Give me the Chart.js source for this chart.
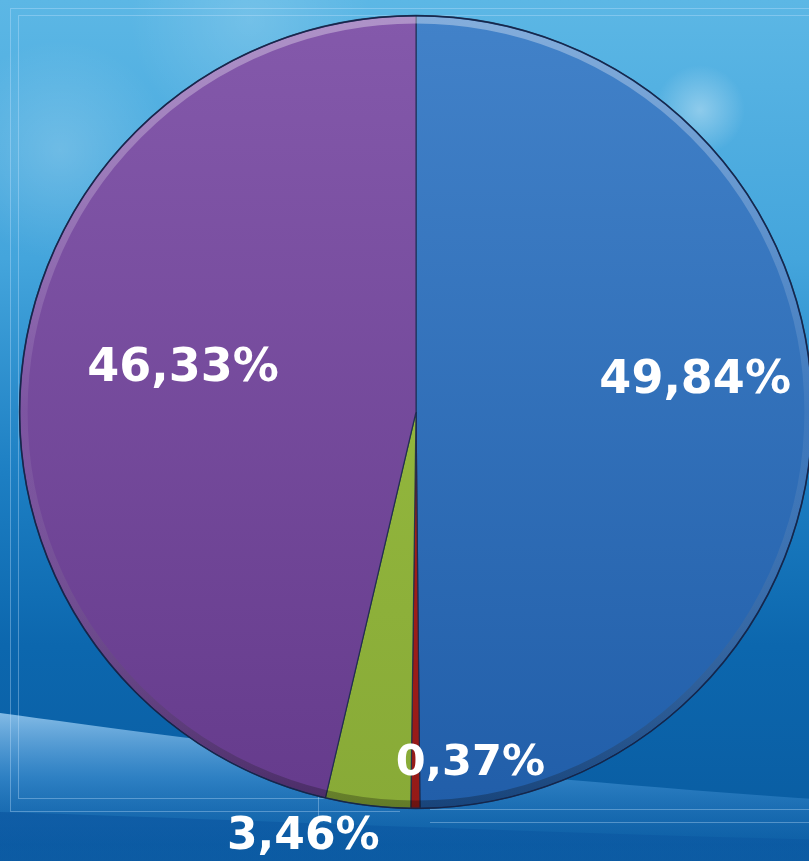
<!DOCTYPE html>
<html>
<head>
<meta charset="utf-8">
<script src="https://cdn.jsdelivr.net/npm/chart.js@4.4.0/dist/chart.umd.min.js"></script>
<style>
  html, body { margin: 0; padding: 0; overflow: hidden; background: #2a8bd0; }
  #pie { display: block; }
</style>
</head>
<body>
<canvas id="pie" width="830" height="861"></canvas>
<script>
// slices go clockwise from 12 o'clock
var sliceNames  = ['A', 'B', 'C', 'D'];
var sliceValues = [49.84, 0.37, 3.46, 46.33];
var sliceLabels = ['49,84%', '0,37%', '3,46%', '46,33%'];

// colours: top / bottom of each slice
var colTop    = ['#4282c9', '#b2261f', '#9cc243', '#8459ab'];
var colBottom = ['#215ea9', '#951a17', '#88aa37', '#653b8c'];

// where each label sits: fraction of radius, turn from mid-angle (deg), font size
var labelRadius = [0.71, 0.887, 1.10, 0.60];
var labelTurn   = [-7, -9, 8, 5];
var labelSize   = [46, 43, 44, 46];

var skyPlugin = {
    id: 'sky',
    beforeDraw: function(chart){
        var c = chart.ctx, w = chart.width, h = chart.height;
        c.save();
        var g = c.createLinearGradient(0, 0, 0, h);
        g.addColorStop(0, '#5cb7e5');
        g.addColorStop(0.3, '#44a5dc');
        g.addColorStop(0.55, '#1d7fc3');
        g.addColorStop(0.75, '#0c67ae');
        g.addColorStop(1, '#095ba0');
        c.fillStyle = g;
        c.fillRect(0, 0, w, h);

        // soft clouds
        function cloud(x, y, r, a){
            var rg = c.createRadialGradient(x, y, 0, x, y, r);
            rg.addColorStop(0, 'rgba(255,255,255,' + a + ')');
            rg.addColorStop(1, 'rgba(255,255,255,0)');
            c.fillStyle = rg;
            c.beginPath(); c.arc(x, y, r, 0, Math.PI * 2); c.fill();
        }
        cloud(700, 110, 45, 0.35);
        cloud(60, 150, 110, 0.18);
        cloud(250, 20, 120, 0.15);

        // light wave band across the bottom
        var wg = c.createLinearGradient(0, 710, 0, 845);
        wg.addColorStop(0, 'rgba(150,200,238,0.9)');
        wg.addColorStop(0.5, 'rgba(70,150,215,0.6)');
        wg.addColorStop(1, 'rgba(30,110,185,0.2)');
        c.fillStyle = wg;
        c.beginPath();
        c.moveTo(0, 713);
        c.bezierCurveTo(200, 740, 450, 775, w, 800);
        c.lineTo(w, h);
        c.lineTo(0, h);
        c.closePath();
        c.fill();

        // darker strip beneath
        var dg = c.createLinearGradient(0, 805, 0, h);
        dg.addColorStop(0, 'rgba(10,85,160,0.7)');
        dg.addColorStop(1, 'rgba(10,85,160,0.35)');
        c.fillStyle = dg;
        c.beginPath();
        c.moveTo(0, 812);
        c.bezierCurveTo(200, 818, 450, 830, w, 840);
        c.lineTo(w, h);
        c.lineTo(0, h);
        c.closePath();
        c.fill();

        // faint frame lines
        c.strokeStyle = 'rgba(200,230,255,0.35)';
        c.lineWidth = 1;
        c.beginPath();
        c.moveTo(10.5, 811); c.lineTo(10.5, 8.5); c.lineTo(w, 8.5);
        c.moveTo(18.5, 798); c.lineTo(18.5, 15.5); c.lineTo(w, 15.5);
        c.moveTo(10, 811.5); c.lineTo(400, 811.5);
        c.moveTo(18, 798.5); c.lineTo(400, 798.5);
        c.moveTo(430, 809.5); c.lineTo(w, 809.5);
        c.moveTo(430, 822.5); c.lineTo(w, 822.5);
        c.moveTo(318.5, 405); c.lineTo(318.5, 822);
        c.moveTo(318, 405.5); c.lineTo(425, 405.5);
        c.stroke();
        c.restore();
    }
};

var bevelPlugin = {
    id: 'bevel',
    afterDatasetsDraw: function(chart){
        var arc = chart.getDatasetMeta(0).data[0];
        if(!arc) return;
        var c = chart.ctx, x = arc.x, y = arc.y, r = arc.outerRadius;
        c.save();
        var g = c.createLinearGradient(0, y - r, 0, y + r);
        g.addColorStop(0, 'rgba(255,255,255,0.35)');
        g.addColorStop(0.5, 'rgba(255,255,255,0.06)');
        g.addColorStop(1, 'rgba(0,0,0,0.28)');
        c.strokeStyle = g;
        c.lineWidth = 7;
        c.beginPath();
        c.arc(x, y, r - 4.5, 0, Math.PI * 2);
        c.stroke();
        c.strokeStyle = 'rgba(20,35,70,0.85)';
        c.lineWidth = 1.6;
        c.beginPath();
        c.arc(x, y, r, 0, Math.PI * 2);
        c.stroke();
        c.restore();
    }
};

var labelPlugin = {
    id: 'pctLabels',
    afterDraw: function(chart){
        var c = chart.ctx;
        chart.getDatasetMeta(0).data.forEach(function(arc, i){
            var mid = (arc.startAngle + arc.endAngle) / 2 + labelTurn[i] * Math.PI / 180;
            var r = arc.outerRadius * labelRadius[i];
            var px = arc.x + Math.cos(mid) * r;
            var py = arc.y + Math.sin(mid) * r;
            c.save();
            c.font = 'bold ' + labelSize[i] + 'px "DejaVu Sans"';
            c.textAlign = 'center';
            c.textBaseline = 'alphabetic';
            c.fillStyle = '#ffffff';
            c.fillText(sliceLabels[i], px, py + labelSize[i] * 0.36);
            c.restore();
        });
    }
};

function sliceFill(ctx){
    var chart = ctx.chart, i = ctx.dataIndex, a = chart.chartArea;
    if(!a) return colTop[i];
    var g = chart.ctx.createLinearGradient(0, a.top, 0, a.bottom);
    g.addColorStop(0, colTop[i]);
    g.addColorStop(1, colBottom[i]);
    return g;
}

var pie = new Chart(document.getElementById('pie').getContext('2d'), {
    type: 'pie',
    data: {
        labels: sliceNames,
        datasets: [{
            data: sliceValues,
            backgroundColor: sliceFill,
            borderColor: 'rgba(25,40,75,0.8)',
            borderWidth: 1.2
        }]
    },
    options: {
        responsive: false,
        animation: false,
        layout: { padding: { left: 19, top: 15, right: 17, bottom: 52 } },
        plugins: {
            legend: { display: false },
            tooltip: { enabled: false }
        }
    },
    plugins: [skyPlugin, bevelPlugin, labelPlugin]
});
</script>
</body>
</html>
